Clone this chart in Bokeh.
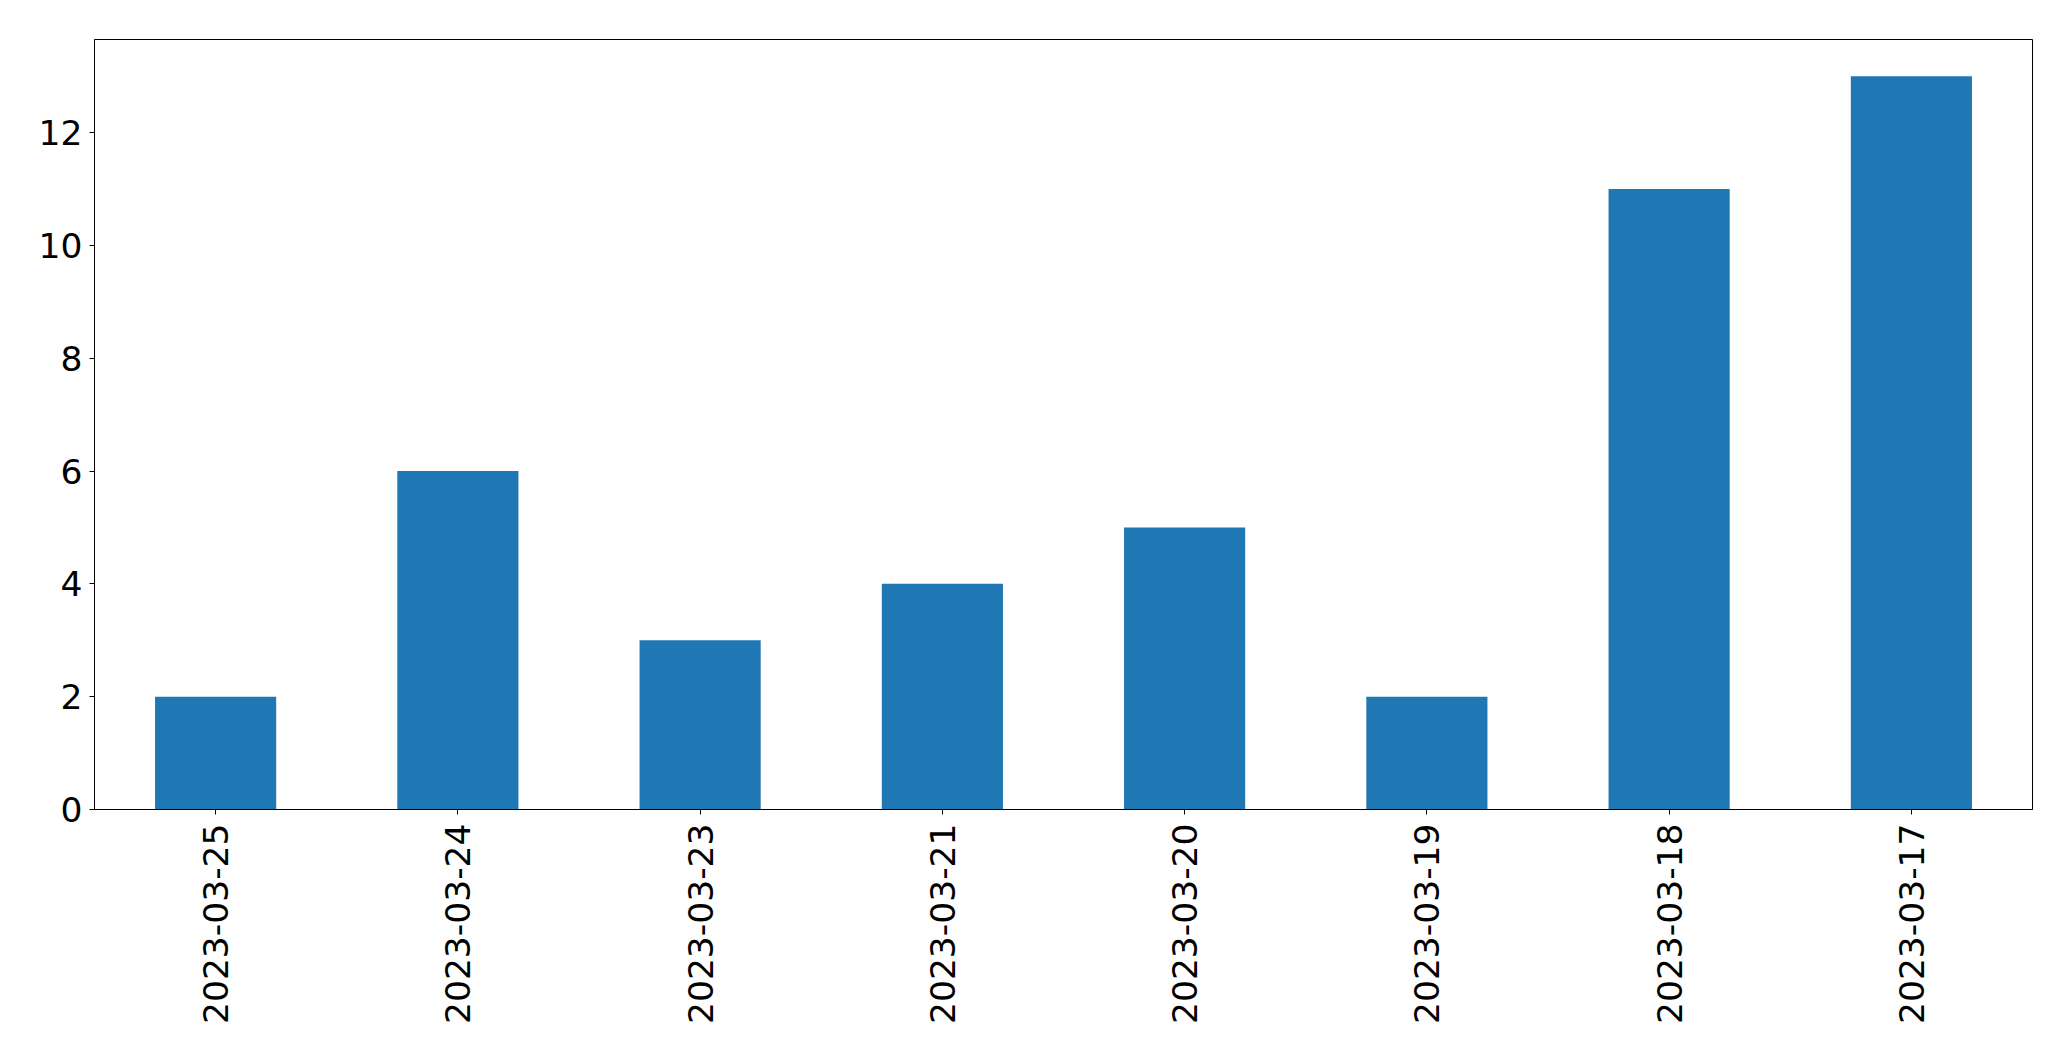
import math
from bokeh.plotting import figure
from bokeh.models import FactorRange, Range1d, SingleIntervalTicker, ColumnDataSource
from bokeh.embed import file_html
from bokeh.resources import INLINE

dates = ["2023-03-25", "2023-03-24", "2023-03-23", "2023-03-21",
         "2023-03-20", "2023-03-19", "2023-03-18", "2023-03-17"]
counts = [2, 6, 3, 4, 5, 2, 11, 13]

src = ColumnDataSource(dict(x=dates, y=counts))

p = figure(width=2063, height=1053, x_range=FactorRange(*dates),
           y_range=Range1d(0, 13.65), output_backend="svg", toolbar_location=None,
           min_border_left=94, min_border_right=31, min_border_top=39, min_border_bottom=244)
p.vbar(x="x", top="y", width=0.5, source=src, color="#1f77b4", line_color=None)

p.xgrid.visible = False
p.ygrid.visible = False
p.outline_line_color = "black"
p.outline_line_width = 1
p.outline_line_alpha = 1

for ax in (p.xaxis[0], p.yaxis[0]):
    ax.axis_line_color = "black"
    ax.major_tick_line_color = "black"
    ax.major_tick_out = 5
    ax.major_tick_in = 0
    ax.minor_tick_line_color = None
    ax.major_label_text_font = "DejaVu Sans"
    ax.major_label_text_font_size = "34.5px"
    ax.major_label_text_color = "black"

p.yaxis[0].ticker = SingleIntervalTicker(interval=2)
p.yaxis[0].major_label_standoff = 7
p.xaxis[0].major_label_orientation = math.pi / 2
p.xaxis[0].major_label_standoff = 9

open("out.html", "w").write(file_html(p, INLINE))
